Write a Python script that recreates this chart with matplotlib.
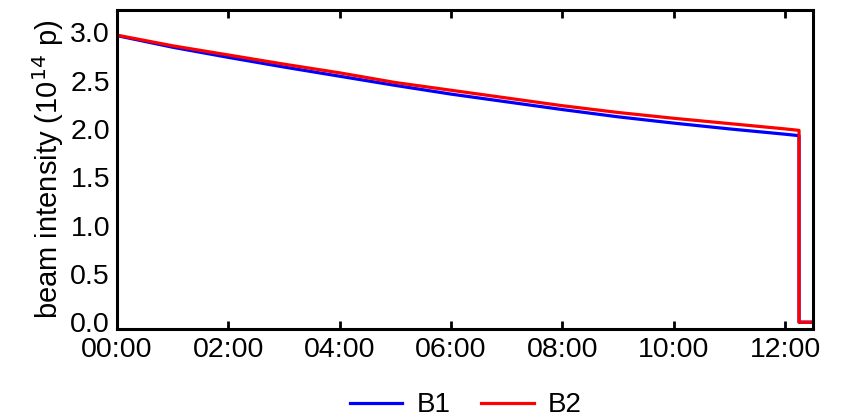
import numpy as np
import matplotlib
matplotlib.use("Agg")
from matplotlib import pyplot as plt
from matplotlib.ticker import FuncFormatter

plt.rcParams["font.family"] = ["Liberation Sans", "DejaVu Sans"]

# time since start of fill, hours
hours = [0, 1, 2, 3, 4, 5, 6, 7, 8, 9, 10, 11, 12, 12.25, 12.25, 12.5]
b1 = [2.965, 2.845, 2.74, 2.64, 2.545, 2.45, 2.36, 2.28, 2.20, 2.125, 2.06, 2.0, 1.945, 1.93, 0.0, 0.0]
b2 = [2.97, 2.86, 2.765, 2.67, 2.58, 2.48, 2.40, 2.32, 2.24, 2.17, 2.11, 2.055, 2.0, 1.985, 0.0, 0.0]
xticks = [0, 2, 4, 6, 8, 10, 12]
yticks = [0.0, 0.5, 1.0, 1.5, 2.0, 2.5, 3.0]


def main() -> None:
    fig = plt.figure(figsize=(8.51, 4.18), dpi=100)
    ax = fig.add_axes([0.1375, 0.213, 0.8178, 0.763])

    ax.plot(hours, b1, color="#0000ff", lw=2.3, label="B1")
    ax.plot(hours, b2, color="#ff0000", lw=2.3, label="B2")

    ax.set_xlim(0, 12.5)
    ax.set_ylim(-0.07, 3.23)
    ax.set_xticks(xticks)
    ax.set_yticks(yticks)
    ax.xaxis.set_major_formatter(FuncFormatter(lambda v, p: f"{int(v):02d}:00"))
    ax.yaxis.set_major_formatter(FuncFormatter(lambda v, p: f"{v:.1f}"))
    ax.tick_params(axis="x", direction="in", top=True, length=6, width=2,
                   labelsize=20.5, pad=6)
    ax.tick_params(axis="y", length=0, labelsize=20.5, pad=5)
    for s in ax.spines.values():
        s.set_linewidth(2.2)

    ax.set_ylabel("beam intensity (10$^{14}$ p)", fontsize=21, labelpad=3)

    fig.legend(loc="center", ncol=2, frameon=False, fontsize=20,
               bbox_to_anchor=(0.547, 0.03), handlelength=1.9,
               handletextpad=0.5, columnspacing=1.1)

    fig.savefig("out.png", dpi=100)


if __name__ == "__main__":
    main()
